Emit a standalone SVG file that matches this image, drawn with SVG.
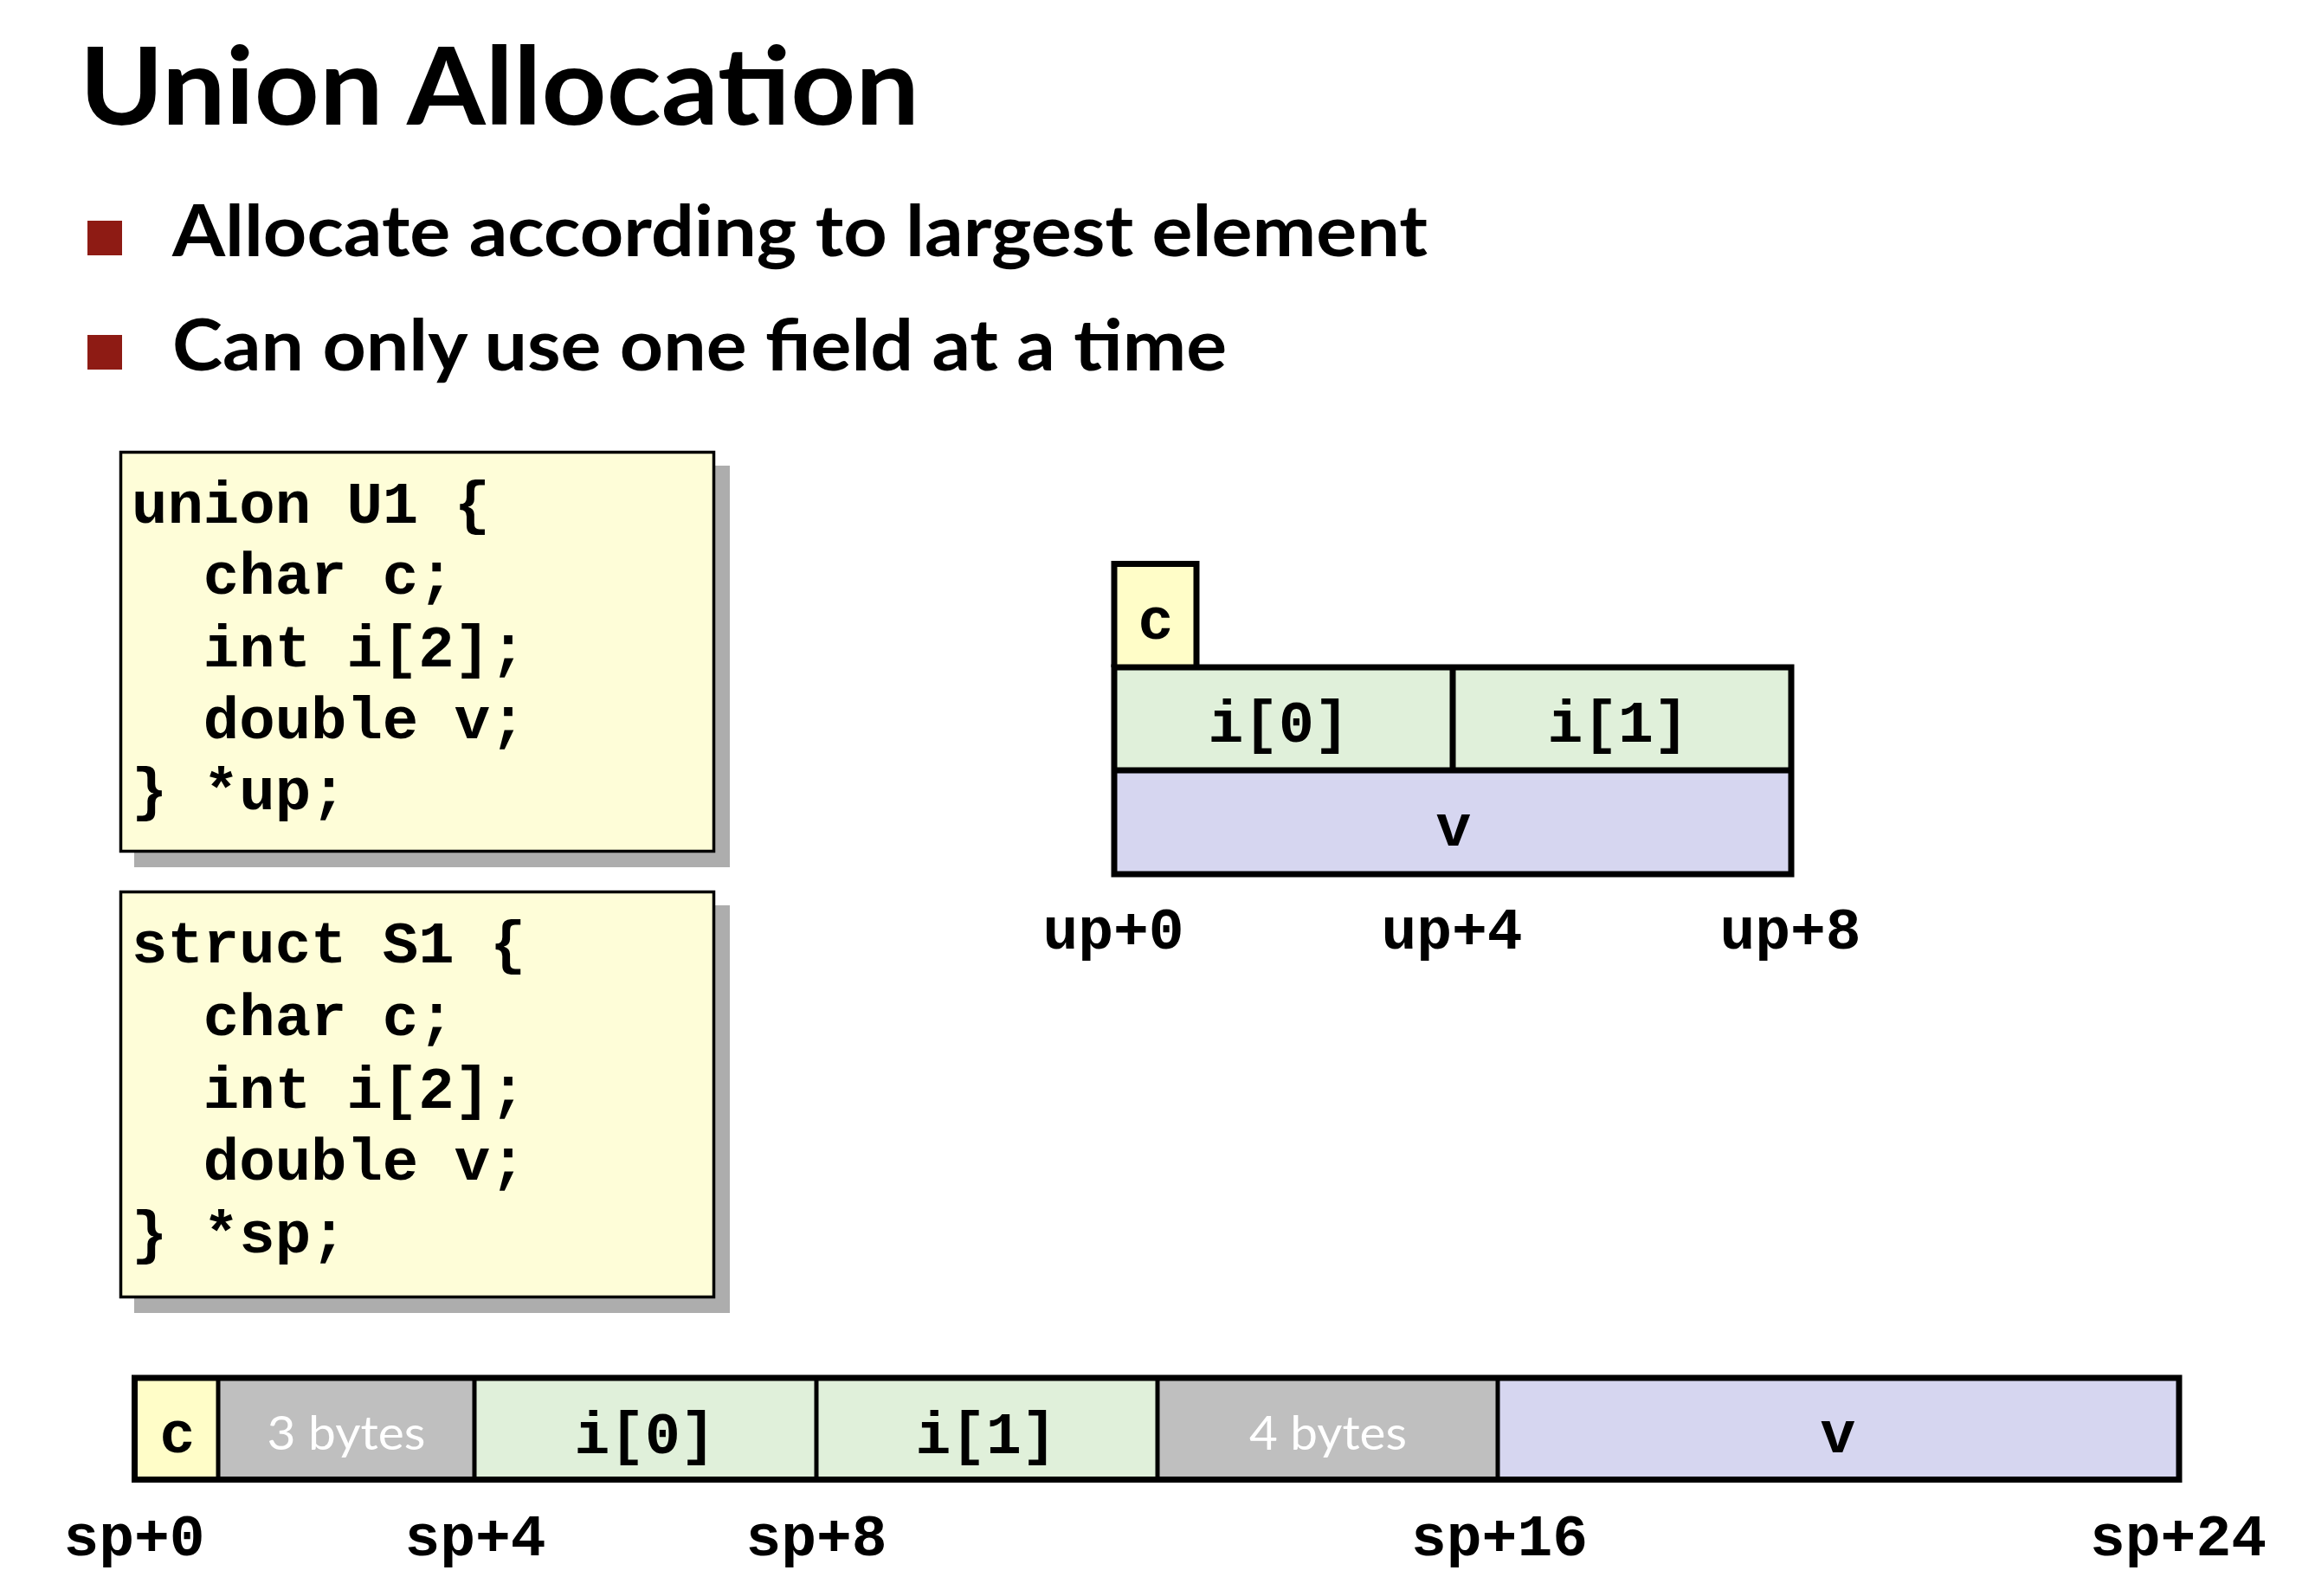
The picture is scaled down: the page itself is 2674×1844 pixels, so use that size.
<svg xmlns="http://www.w3.org/2000/svg" width="2674" height="1844" viewBox="0 0 2674 1844">
<style>
.title{font-family:Lato,"Open Sans","Liberation Sans",sans-serif;font-weight:700;font-size:124px;fill:#000}
.bul{font-family:Lato,"Open Sans","Liberation Sans",sans-serif;font-weight:700;font-size:82px;fill:#000}
.code{font-family:"Liberation Mono","DejaVu Sans Mono",monospace;font-weight:700;font-size:69px;fill:#000;white-space:pre}
.lab{font-family:"Liberation Mono","DejaVu Sans Mono",monospace;font-weight:700;font-size:68px;fill:#000;text-anchor:middle}
.pad{font-family:Lato,"Open Sans","Liberation Sans",sans-serif;font-size:54px;fill:#fff;text-anchor:middle}
.box{fill:#FEFDD8;stroke:#000;stroke-width:3.5}
.shadow{fill:#ADADAD}
.cy{fill:#FFFDC8}
.gr{fill:#E0F0DA}
.lv{fill:#D6D6F0}
.gy{fill:#BFBFBF}
.ln{fill:none;stroke:#000;stroke-width:7}
.dv{fill:none;stroke:#000;stroke-width:5}
.sq{fill:#8E1B14}
</style>

<g id="title">
<text class="title" x="92" y="144" textLength="970" lengthAdjust="spacingAndGlyphs">Union Allocation</text>
</g>

<g id="bullets">
<rect class="sq" x="101" y="255" width="40" height="40"/>
<text class="bul" x="199" y="296" textLength="1450" lengthAdjust="spacingAndGlyphs">Allocate according to largest element</text>
<rect class="sq" x="101" y="387" width="40" height="40"/>
<text class="bul" x="199" y="428" textLength="1218" lengthAdjust="spacingAndGlyphs">Can only use one field at a time</text>
</g>

<g id="union-code">
<rect class="shadow" x="155" y="538" width="688" height="464"/>
<rect class="box" x="139.5" y="522.5" width="685" height="461"/>
<text class="code" x="152" y="604">union U1 {</text>
<text class="code" x="152" y="686">  char c;</text>
<text class="code" x="152" y="770">  int i[2];</text>
<text class="code" x="152" y="853">  double v;</text>
<text class="code" x="152" y="935">} *up;</text>
</g>

<g id="struct-code">
<rect class="shadow" x="155" y="1046" width="688" height="471"/>
<rect class="box" x="139.5" y="1030.5" width="685" height="468"/>
<text class="code" x="152" y="1112">struct S1 {</text>
<text class="code" x="152" y="1196">  char c;</text>
<text class="code" x="152" y="1280">  int i[2];</text>
<text class="code" x="152" y="1363">  double v;</text>
<text class="code" x="152" y="1447">} *sp;</text>
</g>

<g id="union-layout">
<rect class="cy" x="1287" y="651.5" width="95" height="119.5"/>
<rect class="gr" x="1287" y="771" width="782" height="119"/>
<rect class="lv" x="1287" y="890" width="782" height="120"/>
<path class="ln" d="M1287,771 V651.5 H1382 V771"/>
<rect class="ln" x="1287" y="771" width="782" height="239"/>
<path class="ln" d="M1287,890 H2069 M1678,771 V890"/>
<text class="lab" x="1335" y="738">c</text>
<text class="lab" x="1477" y="857">i[0]</text>
<text class="lab" x="1869" y="857">i[1]</text>
<text class="lab" x="1679" y="977">v</text>
<text class="lab" x="1286" y="1096">up+0</text>
<text class="lab" x="1677" y="1096">up+4</text>
<text class="lab" x="2068" y="1096">up+8</text>
</g>

<g id="struct-layout">
<rect class="cy" x="155.5" y="1592" width="96.5" height="117.5"/>
<rect class="gy" x="252" y="1592" width="296" height="117.5"/>
<rect class="gr" x="548" y="1592" width="789" height="117.5"/>
<rect class="gy" x="1337" y="1592" width="393" height="117.5"/>
<rect class="lv" x="1730" y="1592" width="787" height="117.5"/>
<path class="dv" d="M252,1592 V1709.5 M548,1592 V1709.5 M943,1592 V1709.5 M1337,1592 V1709.5 M1730,1592 V1709.5"/>
<rect class="ln" x="155.5" y="1592" width="2361.5" height="117.5"/>
<text class="lab" x="205" y="1678">c</text>
<text class="pad" x="400" y="1675" textLength="183" lengthAdjust="spacingAndGlyphs">3 bytes</text>
<text class="lab" x="745" y="1679">i[0]</text>
<text class="lab" x="1139" y="1679">i[1]</text>
<text class="pad" x="1534" y="1675" textLength="182" lengthAdjust="spacingAndGlyphs">4 bytes</text>
<text class="lab" x="2123" y="1678">v</text>
<text class="lab" x="155" y="1797">sp+0</text>
<text class="lab" x="549" y="1797">sp+4</text>
<text class="lab" x="943" y="1797">sp+8</text>
<text class="lab" x="1732" y="1797">sp+16</text>
<text class="lab" x="2516" y="1797">sp+24</text>
</g>
</svg>
